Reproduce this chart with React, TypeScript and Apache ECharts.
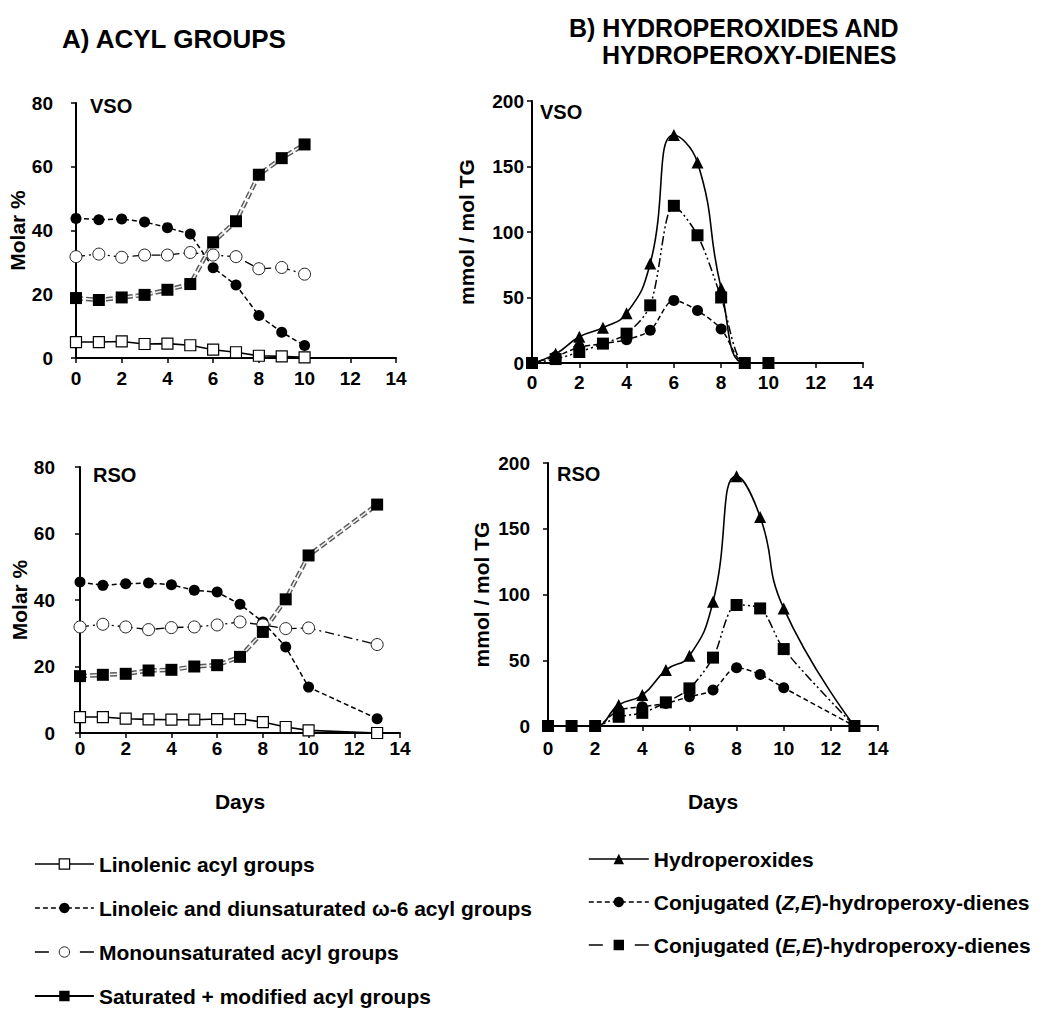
import React, { useEffect, useRef } from "react";
import * as echarts from "echarts";

const FONT = 'Arial, "Liberation Sans", Helvetica, sans-serif';

// Sampling days
const vsoDays = [0, 1, 2, 3, 4, 5, 6, 7, 8, 9, 10];
const rsoDays = [0, 1, 2, 3, 4, 5, 6, 7, 8, 9, 10, 13];

// A) Acyl groups, molar %
const vsoLinolenic = [5.0, 5.0, 5.2, 4.4, 4.5, 4.0, 2.6, 1.8, 0.7, 0.5, 0.2];
const vsoLinoleic = [43.8, 43.4, 43.6, 42.7, 40.9, 38.9, 28.3, 22.9, 13.3, 8.1, 3.9];
const vsoMono = [31.8, 32.6, 31.6, 32.3, 32.3, 33.1, 32.3, 31.8, 28.0, 28.4, 26.3];
const vsoSaturated = [18.8, 18.2, 19.0, 19.8, 21.4, 23.2, 36.3, 42.9, 57.5, 62.7, 67.0];

const rsoLinolenic = [4.8, 4.8, 4.3, 4.1, 4.0, 4.0, 4.2, 4.2, 3.3, 1.8, 0.8, 0];
const rsoLinoleic = [45.4, 44.4, 44.9, 45.1, 44.6, 42.9, 42.4, 38.7, 33.4, 25.9, 13.8, 4.3];
const rsoMono = [31.9, 32.7, 31.9, 31.1, 31.7, 31.9, 32.5, 33.4, 32.5, 31.4, 31.6, 26.6];
const rsoSaturated = [17.1, 17.5, 17.8, 18.8, 19.0, 20.0, 20.4, 22.9, 30.4, 40.2, 53.4, 68.7];

// B) Hydroperoxides and hydroperoxy-dienes, mmol / mol TG
const vsoHydroperoxides = [0, 7, 20, 27, 38, 76, 174, 153, 57, 0, 0];
const vsoZE = [0, 5, 12, 14.8, 17.8, 25, 47.8, 40, 26, 0, 0];
const vsoEE = [0, 3, 8.4, 14.8, 22.4, 44, 120, 97.5, 50, 0, 0];

const rsoHydroperoxides = [0, 0, 0, 16, 23.5, 42.5, 53.4, 94.4, 190, 159, 89.4, 0];
const rsoZE = [0, 0, 0, 12, 14.7, 17.2, 22.3, 27.3, 44.3, 39.2, 29.1, 0];
const rsoEE = [0, 0, 0, 7, 10, 18, 28.6, 52, 92, 89.4, 58.5, 0];

// Axis ticks
const dayTicks = { min: 0, max: 14, interval: 2 };
const molarTicks = { min: 0, max: 80, interval: 20 };
const peroxTicks = { min: 0, max: 200, interval: 50 };

const ACYL = [
  "Linolenic acyl groups",
  "Linoleic and diunsaturated ω-6 acyl groups",
  "Monounsaturated acyl groups",
  "Saturated + modified acyl groups",
];
const PEROX = [
  "Hydroperoxides",
  "Conjugated (Z,E)-hydroperoxy-dienes",
  "Conjugated (E,E)-hydroperoxy-dienes",
];

const pairs = (xs: number[], ys: number[]) => xs.map((x, i) => [x, ys[i]]);

const BLACK = "#000";

function acylSeries(ax: number, days: number[], lin: number[], lino: number[], mono: number[], sat: number[]) {
  const base = { type: "line", xAxisIndex: ax, yAxisIndex: ax };
  return [
    {
      ...base,
      name: ACYL[0],
      data: pairs(days, lin),
      symbol: "rect",
      symbolSize: 11,
      itemStyle: { color: "#fff", borderColor: BLACK, borderWidth: 1.2 },
      lineStyle: { color: BLACK, width: 1.6 },
    },
    {
      ...base,
      name: ACYL[1],
      data: pairs(days, lino),
      symbol: "circle",
      symbolSize: 11,
      itemStyle: { color: BLACK },
      lineStyle: { color: BLACK, width: 1.5, type: [5, 3] },
    },
    {
      ...base,
      name: ACYL[2],
      data: pairs(days, mono),
      symbol: "circle",
      symbolSize: 12,
      itemStyle: { color: "#fff", borderColor: "#222", borderWidth: 1 },
      lineStyle: { color: BLACK, width: 1.3, type: [9, 4, 2, 4] },
    },
    {
      // centre dot of the open circles
      type: "scatter",
      name: "mono-core",
      xAxisIndex: ax,
      yAxisIndex: ax,
      data: pairs(days, mono),
      symbolSize: 2.5,
      itemStyle: { color: BLACK },
      silent: true,
    },
    {
      // grey double dashed line: dark outer stroke + light core
      ...base,
      name: "sat-outer",
      data: pairs(days, sat),
      symbol: "none",
      lineStyle: { color: "#5a5a5a", width: 4.5, type: [7, 3] },
    },
    {
      ...base,
      name: "sat-inner",
      data: pairs(days, sat),
      symbol: "none",
      lineStyle: { color: "#f0f0f0", width: 1.6, type: [7, 3] },
    },
    {
      ...base,
      name: ACYL[3],
      data: pairs(days, sat),
      symbol: "rect",
      symbolSize: 12,
      itemStyle: { color: BLACK },
      lineStyle: { color: BLACK, width: 1.5, opacity: 0 },
    },
  ];
}

function peroxSeries(ax: number, days: number[], hp: number[], ze: number[], ee: number[]) {
  const base = { type: "line", xAxisIndex: ax, yAxisIndex: ax };
  return [
    {
      ...base,
      name: PEROX[0],
      data: pairs(days, hp),
      symbol: "triangle",
      symbolSize: 12,
      smooth: 0.5,
      itemStyle: { color: BLACK },
      lineStyle: { color: BLACK, width: 1.6 },
    },
    {
      ...base,
      name: PEROX[1],
      data: pairs(days, ze),
      symbol: "circle",
      symbolSize: 11,
      smooth: 0.3,
      itemStyle: { color: BLACK },
      lineStyle: { color: BLACK, width: 1.5, type: [5, 3] },
    },
    {
      ...base,
      name: PEROX[2],
      data: pairs(days, ee),
      symbol: "rect",
      symbolSize: 12,
      smooth: 0.3,
      itemStyle: { color: BLACK },
      lineStyle: { color: BLACK, width: 1.5, type: [9, 3, 2, 3, 2, 3] },
    },
  ];
}

const grids = [
  { left: 76, top: 103, width: 320, height: 255 },
  { left: 532, top: 101, width: 331, height: 262 },
  { left: 80, top: 467, width: 320, height: 266 },
  { left: 548, top: 463, width: 330, height: 263 },
];

const labelFont = { fontSize: 19, fontWeight: "bold", color: BLACK, fontFamily: FONT };
const nameFont = { fontSize: 21, fontWeight: "bold", color: BLACK, fontFamily: FONT };

function xAxis(gridIndex: number, margin: number, nameGap?: number) {
  return {
    gridIndex,
    type: "value",
    ...dayTicks,
    name: nameGap ? "Days" : "",
    nameLocation: "middle",
    nameGap: nameGap || 0,
    nameTextStyle: nameFont,
    axisLine: { show: true, onZero: false, lineStyle: { color: BLACK, width: 2 } },
    axisTick: { show: true, inside: false, length: 5, lineStyle: { color: BLACK, width: 1.5 } },
    axisLabel: { ...labelFont, margin },
    splitLine: { show: false },
  };
}

function yAxis(gridIndex: number, ticks: any, name: string, nameGap: number, margin: number) {
  return {
    gridIndex,
    type: "value",
    ...ticks,
    name,
    nameLocation: "middle",
    nameRotate: 90,
    nameGap,
    nameTextStyle: nameFont,
    axisLine: { show: true, onZero: false, lineStyle: { color: BLACK, width: 2 } },
    axisTick: { show: true, inside: false, length: 5, lineStyle: { color: BLACK, width: 1.5 } },
    axisLabel: { ...labelFont, margin },
    splitLine: { show: false },
  };
}

const legendText = {
  fontSize: 21,
  fontWeight: "bold",
  color: BLACK,
  fontFamily: FONT,
  lineHeight: 24,
  rich: {
    i: { fontSize: 21, fontWeight: "bold", fontStyle: "italic", color: BLACK, fontFamily: FONT, lineHeight: 24 },
  },
};

const italicize = (name: string) => name.replace(/\((Z,E|E,E)\)/, "({i|$1})");

function panelLabel(text: string, x: number, y: number, size: number) {
  return {
    type: "text",
    x,
    y,
    silent: true,
    style: {
      text,
      fill: BLACK,
      fontSize: size,
      fontWeight: "bold",
      fontFamily: FONT,
      align: "left",
      verticalAlign: "middle",
    },
  };
}

function buildOption() {
  return {
    animation: false,
    backgroundColor: "#fff",
    grid: grids.map((g) => ({ ...g, containLabel: false })),
    xAxis: [xAxis(0, 11), xAxis(1, 10), xAxis(2, 6, 58), xAxis(3, 13, 65)],
    yAxis: [
      yAxis(0, molarTicks, "Molar %", 34, 23),
      yAxis(1, peroxTicks, "mmol / mol TG", 55, 8),
      yAxis(2, molarTicks, "Molar %", 36, 25),
      yAxis(3, peroxTicks, "mmol / mol TG", 56, 18),
    ],
    legend: [
      {
        orient: "vertical",
        left: 34,
        top: 852,
        height: 180,
        padding: 0,
        itemWidth: 59,
        itemHeight: 13,
        itemGap: 20,
        selectedMode: false,
        textStyle: legendText,
        data: [
          { name: ACYL[0], lineStyle: { type: "solid", width: 1.6, color: BLACK, opacity: 1 }, itemStyle: { borderWidth: 1.2 } },
          { name: ACYL[1], lineStyle: { type: [5, 3], width: 1.5, color: BLACK, opacity: 1 }, itemStyle: { borderWidth: 0 } },
          { name: ACYL[2], lineStyle: { type: [14, 31], width: 1.6, color: BLACK, opacity: 1 }, itemStyle: { borderWidth: 1 } },
          { name: ACYL[3], lineStyle: { type: "solid", width: 1.8, color: BLACK, opacity: 1 }, itemStyle: { borderWidth: 0 } },
        ],
      },
      {
        orient: "vertical",
        left: 588,
        top: 847,
        height: 150,
        padding: 0,
        itemWidth: 60,
        itemHeight: 13,
        itemGap: 19,
        selectedMode: false,
        textStyle: legendText,
        formatter: italicize,
        data: [
          { name: PEROX[0], lineStyle: { type: "solid", width: 1.6, color: BLACK, opacity: 1 }, itemStyle: { borderWidth: 0 } },
          { name: PEROX[1], lineStyle: { type: [5, 3], width: 1.5, color: BLACK, opacity: 1 }, itemStyle: { borderWidth: 0 } },
          { name: PEROX[2], lineStyle: { type: [14, 32], width: 1.6, color: BLACK, opacity: 1 }, itemStyle: { borderWidth: 0 } },
        ],
      },
    ],
    graphic: [
      panelLabel("A) ACYL GROUPS", 62, 38.5, 26),
      panelLabel("B) HYDROPEROXIDES AND", 569, 28, 25),
      panelLabel("HYDROPEROXY-DIENES", 602, 55, 25),
      panelLabel("VSO", 90, 105.5, 20),
      panelLabel("VSO", 540, 111.5, 20),
      panelLabel("RSO", 93, 475, 20),
      panelLabel("RSO", 557, 473.5, 20),
    ],
    series: [
      ...acylSeries(0, vsoDays, vsoLinolenic, vsoLinoleic, vsoMono, vsoSaturated),
      ...peroxSeries(1, vsoDays, vsoHydroperoxides, vsoZE, vsoEE),
      ...acylSeries(2, rsoDays, rsoLinolenic, rsoLinoleic, rsoMono, rsoSaturated),
      ...peroxSeries(3, rsoDays, rsoHydroperoxides, rsoZE, rsoEE),
    ],
  };
}

export default function App() {
  const ref = useRef<HTMLDivElement>(null);
  useEffect(() => {
    document.body.style.margin = "0";
    const chart = echarts.init(ref.current as HTMLDivElement, null, { renderer: "svg" });
    chart.setOption(buildOption() as any);
    return () => chart.dispose();
  }, []);
  return <div ref={ref} style={{ width: 1054, height: 1009 }} />;
}
